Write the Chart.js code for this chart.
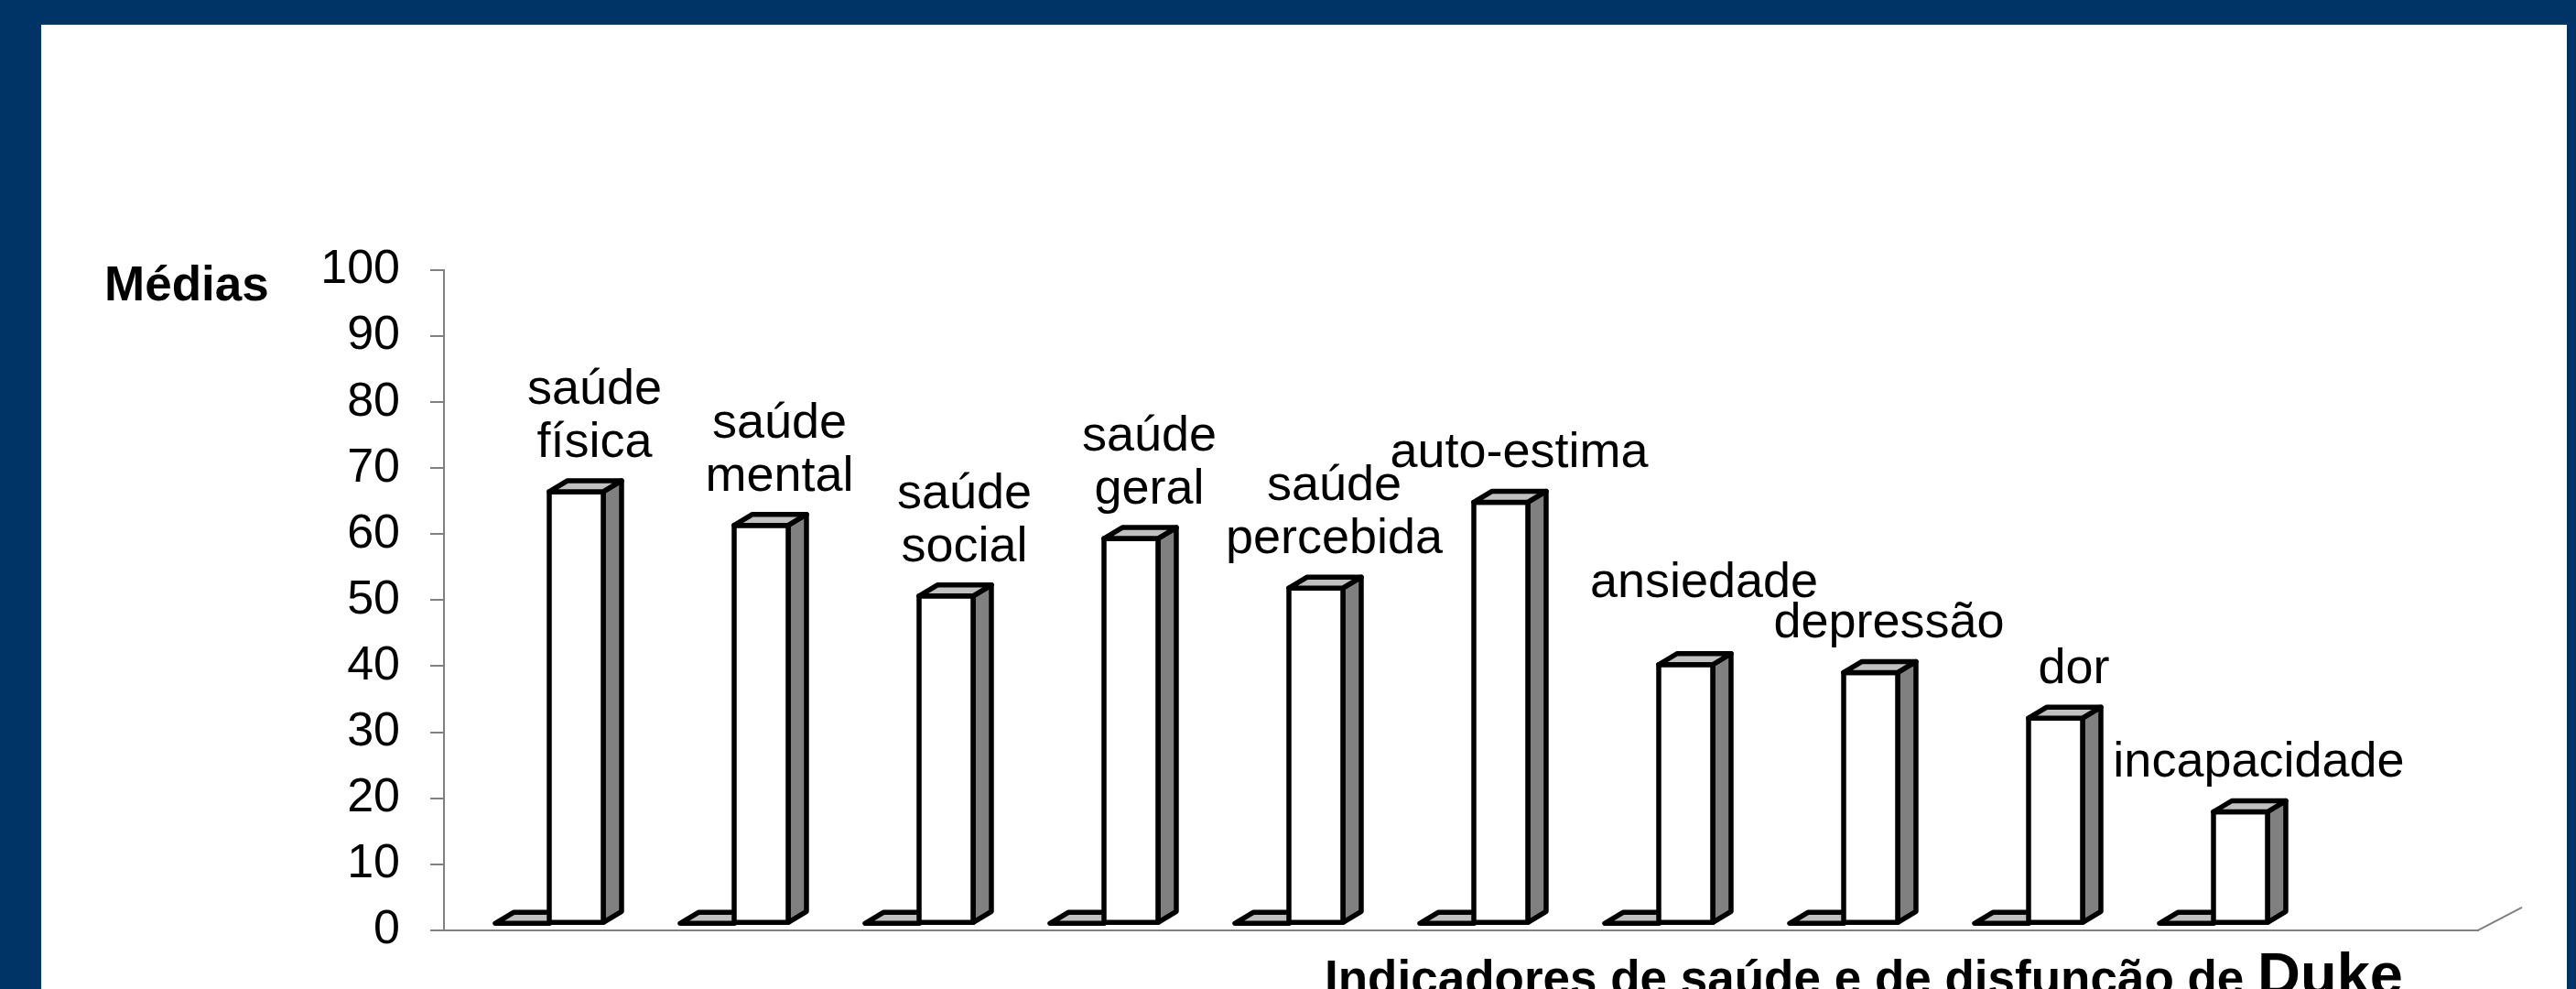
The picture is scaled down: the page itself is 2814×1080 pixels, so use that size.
<!DOCTYPE html>
<html lang="pt">
<head>
  <meta charset="UTF-8">
  <title>Indicadores de saúde e de disfunção de Duke</title>
  <script src="https://cdn.jsdelivr.net/npm/chart.js"></script>
  <style>
    body {
      margin: 0;
      background: #003366;
      width: 2814px;
      height: 1080px;
      overflow: hidden;
      font-family: Arial, "Liberation Sans", sans-serif;
    }
    #panel {
      position: absolute;
      left: 45px;
      top: 27px;
      width: 2759px;
      height: 1053px;
      background: #ffffff;
    }
    canvas {
      position: absolute;
      left: 0;
      top: 0;
    }
  </style>
</head>
<body>

  <div id="panel"></div>
  <canvas id="dukeChart" width="2814" height="1080"></canvas>

  <script>
    // Duke health profile means
    const categories = [
      ['saúde', 'física'],
      ['saúde', 'mental'],
      ['saúde', 'social'],
      ['saúde', 'geral'],
      ['saúde', 'percebida'],
      ['auto-estima'],
      ['ansiedade'],
      ['depressão'],
      ['dor'],
      ['incapacidade']
    ];
    const seriesBase = [0, 0, 0, 0, 0, 0, 0, 0, 0, 0];
    const medias = [65.4, 60.3, 49.6, 58.3, 50.8, 63.8, 39.2, 38.0, 31.1, 16.9];
    const yTicks = [0, 10, 20, 30, 40, 50, 60, 70, 80, 90, 100];

    const FONT = 'Arial, "Liberation Sans", sans-serif';
    const LABEL_SIZE = 54;
    const LINE_H = 58;

    // fake 3D: front face shifted into the floor, then depth offset
    const OX = 14, OY = -7.5;
    const DX = 20, DY = -12;

    // the original chart keeps an empty 11th slot on the right
    const labels = categories.map(c => c.join(' ')).concat(['']);

    function poly(ctx, pts, fill) {
      ctx.beginPath();
      ctx.moveTo(pts[0][0], pts[0][1]);
      for (let k = 1; k < pts.length; k++) ctx.lineTo(pts[k][0], pts[k][1]);
      ctx.closePath();
      ctx.fillStyle = fill;
      ctx.fill();
      ctx.stroke();
    }

    function box(ctx, el) {
      const L = el.x - el.width / 2 + OX;
      const R = el.x + el.width / 2 + OX;
      const T = el.y + OY;
      const B = el.base + OY;
      if (B - T > 0.5) {
        poly(ctx, [[R, B], [R + DX, B + DY], [R + DX, T + DY], [R, T]], '#808080');
        poly(ctx, [[L, B], [R, B], [R, T], [L, T]], '#ffffff');
      }
      poly(ctx, [[L, T], [R, T], [R + DX, T + DY], [L + DX, T + DY]], '#c0c0c0');
      return { L, R, T, B };
    }

    // place labels right to left, lifting a label that would run into its neighbour
    function placeLabels(ctx, tops) {
      const placed = [];
      for (let i = tops.length - 1; i >= 0; i--) {
        const lines = categories[i];
        const t = tops[i];
        const w = Math.max(...lines.map(s => ctx.measureText(s).width));
        const cx = (t.L + t.R) / 2 + 20;
        let last = t.T - 38;
        const h = (lines.length - 1) * LINE_H + 0.72 * LABEL_SIZE;
        for (const p of placed) {
          const left = cx - w / 2, right = cx + w / 2;
          const top = last - h, bottom = last + 2;
          const ox = Math.min(right, p.right) - Math.max(left, p.left);
          const oy = Math.min(bottom, p.bottom) - Math.max(top, p.top);
          if (ox > 6 && oy > 6) last = p.top - 6;
        }
        placed.push({ i, cx, last, left: cx - w / 2, right: cx + w / 2, top: last - h, bottom: last + 2 });
      }
      return placed;
    }

    const bars3d = {
      id: 'bars3d',
      afterDatasetsDraw(chart) {
        const ctx = chart.ctx;
        const area = chart.chartArea;
        const base = chart.getDatasetMeta(0).data;
        const bars = chart.getDatasetMeta(1).data;

        ctx.save();
        // right edge of the floor
        ctx.strokeStyle = '#808080';
        ctx.lineWidth = 2;
        ctx.beginPath();
        ctx.moveTo(area.right, area.bottom);
        ctx.lineTo(area.right + 48, area.bottom - 25);
        ctx.stroke();

        ctx.strokeStyle = '#000000';
        ctx.lineWidth = 5.5;
        ctx.lineJoin = 'round';
        const tops = [];
        for (let i = 0; i < categories.length; i++) {
          box(ctx, base[i]);
          tops.push(box(ctx, bars[i]));
        }

        // category names as data labels
        ctx.fillStyle = '#000000';
        ctx.font = LABEL_SIZE + 'px ' + FONT;
        ctx.textAlign = 'center';
        ctx.textBaseline = 'alphabetic';
        placeLabels(ctx, tops).forEach(p => {
          const lines = categories[p.i];
          for (let k = 0; k < lines.length; k++) {
            ctx.fillText(lines[k], p.cx, p.last - (lines.length - 1 - k) * LINE_H);
          }
        });

        // axis titles
        ctx.textAlign = 'left';
        ctx.font = 'bold 53px ' + FONT;
        ctx.fillText('Médias', 114, area.top + 33);

        const part1 = 'Indicadores de saúde e de disfunção de ';
        const tx = 1447, ty = area.bottom + 70;
        ctx.fillText(part1, tx, ty);
        const w1 = ctx.measureText(part1).width;
        ctx.font = 'bold 65px ' + FONT;
        ctx.fillText('Duke', tx + w1, ty);
        ctx.restore();
      }
    };

    const ctx = document.getElementById('dukeChart').getContext('2d');
    new Chart(ctx, {
      type: 'bar',
      data: {
        labels: labels,
        datasets: [
          {
            label: 'base',
            data: seriesBase,
            backgroundColor: 'rgba(0,0,0,0)',
            borderWidth: 0
          },
          {
            label: 'Médias',
            data: medias,
            backgroundColor: 'rgba(0,0,0,0)',
            borderWidth: 0
          }
        ]
      },
      options: {
        responsive: false,
        devicePixelRatio: 1,
        animation: false,
        categoryPercentage: 0.584,
        barPercentage: 1.0,
        layout: {
          padding: { left: 0, top: 295, right: 107, bottom: 63 }
        },
        plugins: {
          legend: { display: false },
          title: { display: false },
          tooltip: { enabled: false }
        },
        scales: {
          x: {
            offset: true,
            ticks: { display: false },
            grid: { display: false },
            border: { display: true, color: '#808080', width: 2 },
            afterFit(scale) { scale.height = 0; }
          },
          y: {
            min: 0,
            max: 100,
            afterBuildTicks(scale) {
              scale.ticks = yTicks.map(v => ({ value: v }));
            },
            ticks: {
              color: '#000000',
              font: { family: FONT, size: 52 },
              padding: 33
            },
            grid: {
              drawOnChartArea: false,
              drawTicks: true,
              tickLength: 15,
              color: '#808080',
              lineWidth: 2
            },
            border: { display: true, color: '#808080', width: 2 },
            afterFit(scale) { scale.width = 485; }
          }
        }
      },
      plugins: [bars3d]
    });
  </script>

</body>
</html>
